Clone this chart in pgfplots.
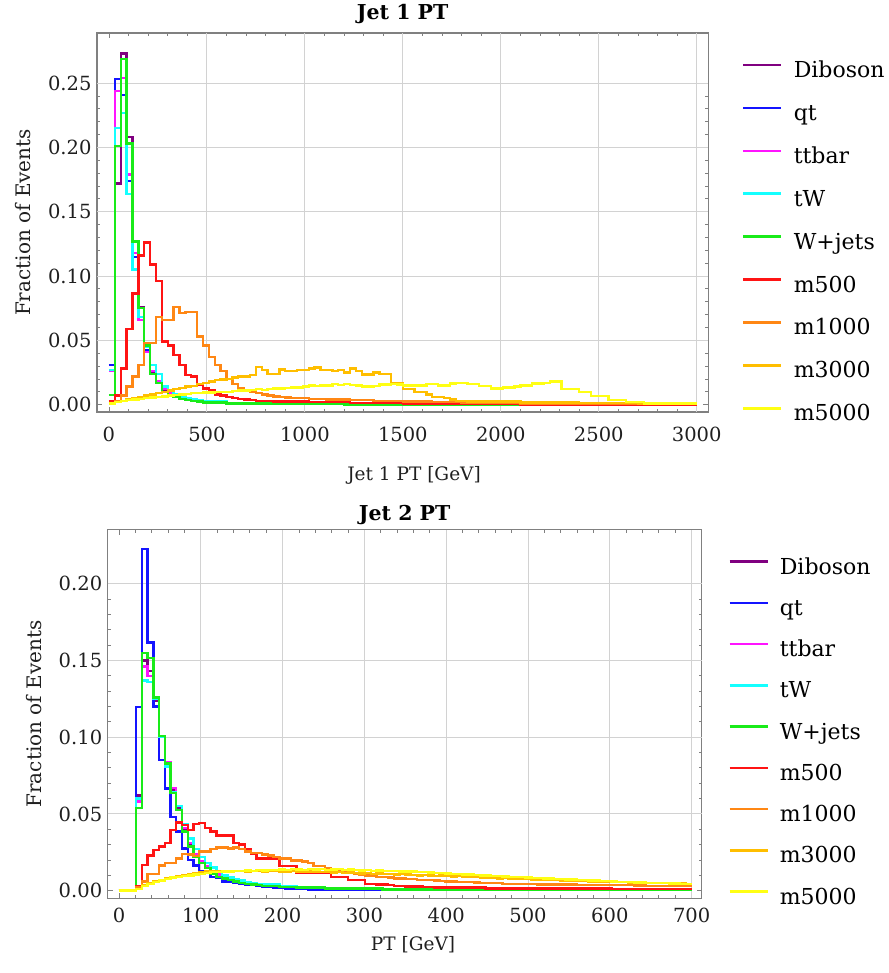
\documentclass[border=0pt]{standalone}
\usepackage{fontspec}
\setmainfont{DejaVu Serif}
\usepackage{pgfplots}
\usepackage{pgfplotstable}
\pgfplotsset{compat=1.18}

\definecolor{cDib}{RGB}{128,0,128}
\definecolor{cQt}{RGB}{20,20,255}
\definecolor{cTt}{RGB}{255,20,255}
\definecolor{cTw}{RGB}{20,255,255}
\definecolor{cWj}{RGB}{25,235,25}
\definecolor{cMa}{RGB}{255,20,20}
\definecolor{cMb}{RGB}{255,135,20}
\definecolor{cMc}{RGB}{255,190,0}
\definecolor{cMd}{RGB}{255,255,20}
\definecolor{cFrame}{RGB}{128,128,128}
\definecolor{cGrid}{RGB}{210,210,210}

\pgfplotstableread{
x dib qt tt tw wj ma mb mc md
0 0.003 0.031 0.026 0.027 0.0075 0.003 0.001 0.001 0.001
30 0.172 0.253 0.244 0.215 0.201 0.007 0.003 0.002 0.002
60 0.273 0.241 0.254 0.227 0.269 0.028 0.007 0.003 0.003
90 0.208 0.174 0.179 0.164 0.203 0.059 0.014 0.004 0.0035
120 0.127 0.115 0.118 0.105 0.127 0.0865 0.0218 0.005 0.004
150 0.076 0.068 0.066 0.068 0.075 0.116 0.031 0.006 0.0045
180 0.045 0.042 0.041 0.045 0.046 0.126 0.048 0.007 0.005
210 0.025 0.026 0.026 0.031 0.024 0.109 0.048 0.008 0.0055
240 0.017 0.017 0.018 0.024 0.017 0.096 0.068 0.009 0.006
270 0.011 0.012 0.012 0.014 0.010 0.049 0.066 0.010 0.0065
300 0.008 0.008 0.009 0.011 0.0075 0.046 0.066 0.011 0.007
330 0.006 0.006 0.007 0.008 0.006 0.0386 0.076 0.012 0.0075
360 0.005 0.005 0.005 0.006 0.0045 0.031 0.0715 0.013 0.008
390 0.004 0.004 0.004 0.005 0.0035 0.023 0.072 0.014 0.0085
420 0.0035 0.003 0.0035 0.004 0.003 0.0218 0.072 0.0145 0.009
450 0.003 0.0025 0.003 0.0035 0.0025 0.0153 0.053 0.016 0.009
480 0.0025 0.002 0.002 0.0025 0.0018 0.0127 0.046 0.017 0.0095
510 0.002 0.002 0.002 0.0025 0.0018 0.0114 0.037 0.018 0.0095
540 0.002 0.002 0.002 0.0025 0.0018 0.008 0.031 0.019 0.010
570 0.0015 0.002 0.002 0.0025 0.0018 0.007 0.026 0.0195 0.010
600 0.001 0.001 0.0012 0.0015 0.001 0.006 0.020 0.020 0.010
630 0.001 0.001 0.0012 0.0015 0.001 0.005 0.016 0.021 0.0105
660 0.001 0.001 0.0012 0.0015 0.001 0.0045 0.013 0.022 0.011
690 0.001 0.001 0.0012 0.0015 0.001 0.004 0.011 0.022 0.011
720 0.001 0.001 0.0012 0.0015 0.001 0.0035 0.010 0.023 0.0115
750 0.001 0.001 0.0012 0.0015 0.001 0.003 0.009 0.0295 0.012
780 0.001 0.001 0.0012 0.0015 0.001 0.003 0.008 0.027 0.0115
810 0.001 0.001 0.0012 0.0015 0.001 0.003 0.007 0.024 0.012
840 0.001 0.001 0.0012 0.0015 0.001 0.0025 0.0065 0.024 0.0125
870 0.001 0.001 0.0012 0.0015 0.001 0.0025 0.006 0.0275 0.0125
900 0.0005 0.0005 0.0006 0.0007 0.0004 0.0025 0.0055 0.026 0.013
930 0.0005 0.0005 0.0006 0.0007 0.0004 0.0025 0.005 0.026 0.0135
960 0.0005 0.0005 0.0006 0.0007 0.0004 0.0025 0.005 0.027 0.0135
990 0.0005 0.0005 0.0006 0.0007 0.0004 0.0025 0.005 0.027 0.014
1020 0.0005 0.0005 0.0006 0.0007 0.0004 0.002 0.0045 0.028 0.015
1050 0.0005 0.0005 0.0006 0.0007 0.0004 0.002 0.0045 0.029 0.0145
1080 0.0005 0.0005 0.0006 0.0007 0.0004 0.002 0.0045 0.027 0.015
1110 0.0005 0.0005 0.0006 0.0007 0.0004 0.002 0.004 0.027 0.015
1140 0.0005 0.0005 0.0006 0.0007 0.0004 0.002 0.004 0.026 0.016
1170 0.0005 0.0005 0.0006 0.0007 0.0004 0.002 0.004 0.027 0.0155
1200 0 0 0 0 0 0.002 0.004 0.025 0.016
1230 0 0 0 0 0 0.0012 0.0035 0.028 0.0155
1260 0 0 0 0 0 0.0012 0.0035 0.026 0.015
1290 0 0 0 0 0 0.0012 0.0035 0.0236 0.014
1320 0 0 0 0 0 0.0012 0.0035 0.0236 0.014
1350 0 0 0 0 0 0.0012 0.003 0.025 0.0145
1380 0 0 0 0 0 0.0012 0.003 0.024 0.0158
1410 0 0 0 0 0 0.0012 0.003 0.024 0.0158
1440 0 0 0 0 0 0.0012 0.003 0.0166 0.016
1470 0 0 0 0 0 0.0012 0.003 0.0166 0.0158
1500 0 0 0 0 0 0.0007 0.0025 0.012 0.015
1530 0 0 0 0 0 0.0007 0.0025 0.012 0.015
1560 0 0 0 0 0 0.0007 0.0025 0.010 0.0148
1590 0 0 0 0 0 0.0007 0.0025 0.010 0.015
1620 0 0 0 0 0 0.0007 0.0025 0.008 0.016
1650 0 0 0 0 0 0.0007 0.002 0.006 0.016
1680 0 0 0 0 0 0.0007 0.002 0.006 0.015
1710 0 0 0 0 0 0.0007 0.002 0.005 0.015
1740 0 0 0 0 0 0.0007 0.002 0.004 0.0166
1770 0 0 0 0 0 0.0007 0.002 0.003 0.017
1800 0 0 0 0 0 0.0004 0.0015 0.003 0.017
1830 0 0 0 0 0 0.0004 0.0015 0.0025 0.016
1860 0 0 0 0 0 0.0004 0.0015 0.0025 0.016
1890 0 0 0 0 0 0.0004 0.0015 0.0025 0.0145
1920 0 0 0 0 0 0.0004 0.0015 0.0025 0.0145
1950 0 0 0 0 0 0.0004 0.0015 0.0025 0.0127
1980 0 0 0 0 0 0.0004 0.0015 0.0025 0.0127
2010 0 0 0 0 0 0.0004 0.0015 0.0025 0.0135
2040 0 0 0 0 0 0.0004 0.0015 0.0025 0.0135
2070 0 0 0 0 0 0.0004 0.0015 0.0025 0.014
2100 0 0 0 0 0 0.0002 0.001 0.0018 0.015
2130 0 0 0 0 0 0.0002 0.001 0.0018 0.015
2160 0 0 0 0 0 0.0002 0.001 0.0018 0.0166
2190 0 0 0 0 0 0.0002 0.001 0.0018 0.0166
2220 0 0 0 0 0 0.0002 0.001 0.0018 0.017
2250 0 0 0 0 0 0.0002 0.001 0.0018 0.018
2280 0 0 0 0 0 0.0002 0.001 0.0018 0.018
2310 0 0 0 0 0 0.0002 0.001 0.0018 0.012
2340 0 0 0 0 0 0.0002 0.001 0.0018 0.012
2370 0 0 0 0 0 0.0002 0.001 0.0018 0.012
2400 0 0 0 0 0 0.0002 0.0007 0.0012 0.010
2430 0 0 0 0 0 0.0002 0.0007 0.0012 0.010
2460 0 0 0 0 0 0.0002 0.0007 0.0012 0.0067
2490 0 0 0 0 0 0.0002 0.0007 0.0012 0.0067
2520 0 0 0 0 0 0.0002 0.0007 0.0012 0.0067
2550 0 0 0 0 0 0.0002 0.0007 0.0012 0.0036
2580 0 0 0 0 0 0.0002 0.0007 0.0012 0.0036
2610 0 0 0 0 0 0.0002 0.0007 0.0012 0.0036
2640 0 0 0 0 0 0.0002 0.0007 0.0012 0.0023
2670 0 0 0 0 0 0.0002 0.0007 0.0012 0.0023
2700 0 0 0 0 0 0.0002 0.0005 0.0008 0.0023
2730 0 0 0 0 0 0.0002 0.0005 0.0008 0.001
2760 0 0 0 0 0 0.0002 0.0005 0.0008 0.001
2790 0 0 0 0 0 0.0002 0.0005 0.0008 0.001
2820 0 0 0 0 0 0.0002 0.0005 0.0008 0.001
2850 0 0 0 0 0 0.0002 0.0005 0.0008 0.001
2880 0 0 0 0 0 0.0002 0.0005 0.0008 0.001
2910 0 0 0 0 0 0.0002 0.0005 0.0008 0.001
2940 0 0 0 0 0 0.0002 0.0005 0.0008 0.001
2970 0 0 0 0 0 0.0002 0.0005 0.0008 0.001
3000 0 0 0 0 0 0.0002 0.0005 0.0008 0.001
}\topdata

\pgfplotstableread{
x dib qt tt tw wj ma mb mc md
0 0 0 0 0 0 0 0 0 0
7 0 0 0 0 0 0 0 0 0
14 0 0 0 0 0 0 0 0 0
21 0.062 0.1196 0.058 0.060 0.054 0.003 0.002 0.001 0.001
28 0.150 0.2228 0.146 0.137 0.155 0.0167 0.006 0.0035 0.003
35 0.143 0.1617 0.140 0.136 0.1515 0.023 0.011 0.005 0.0045
42 0.124 0.120 0.126 0.125 0.126 0.0265 0.011 0.006 0.0055
49 0.100 0.085 0.101 0.100 0.101 0.0287 0.0165 0.007 0.0065
56 0.082 0.0667 0.084 0.081 0.083 0.031 0.018 0.008 0.0075
63 0.066 0.048 0.067 0.064 0.0635 0.0396 0.018 0.009 0.0085
70 0.054 0.0385 0.055 0.055 0.0526 0.0443 0.021 0.0095 0.009
77 0.040 0.0276 0.041 0.043 0.0385 0.0428 0.024 0.010 0.0095
84 0.030 0.020 0.031 0.034 0.0287 0.0396 0.0235 0.011 0.010
91 0.023 0.0163 0.024 0.027 0.022 0.0435 0.0225 0.0115 0.0105
98 0.019 0.0124 0.019 0.022 0.018 0.044 0.0255 0.012 0.011
105 0.015 0.0115 0.016 0.018 0.0146 0.041 0.0255 0.0125 0.0115
112 0.012 0.009 0.013 0.015 0.011 0.0385 0.027 0.0125 0.012
119 0.0095 0.0085 0.0105 0.012 0.009 0.036 0.028 0.013 0.012
126 0.008 0.006 0.0085 0.010 0.008 0.036 0.028 0.013 0.0125
133 0.0065 0.0055 0.007 0.0085 0.007 0.036 0.0275 0.0128 0.0125
140 0.0055 0.005 0.006 0.0075 0.006 0.031 0.028 0.013 0.013
147 0.0045 0.0043 0.005 0.0065 0.005 0.030 0.027 0.0128 0.013
154 0.004 0.004 0.0045 0.0055 0.0045 0.027 0.0255 0.0125 0.0132
161 0.0035 0.0035 0.004 0.005 0.004 0.024 0.0245 0.013 0.013
168 0.003 0.003 0.0035 0.0045 0.0035 0.021 0.0245 0.0128 0.0135
175 0.0025 0.0026 0.003 0.004 0.003 0.021 0.0235 0.0125 0.0132
182 0.0025 0.0024 0.003 0.004 0.003 0.021 0.023 0.013 0.0135
189 0.0025 0.002 0.003 0.004 0.003 0.021 0.022 0.0128 0.0135
196 0.002 0.0018 0.0025 0.003 0.0025 0.016 0.021 0.0125 0.0138
203 0.002 0.0015 0.0025 0.003 0.0025 0.016 0.021 0.0125 0.0135
210 0.002 0.0013 0.0025 0.003 0.0025 0.016 0.0196 0.0128 0.014
217 0.0015 0.0012 0.002 0.0025 0.002 0.0115 0.0196 0.0125 0.0138
224 0.0015 0.001 0.002 0.0025 0.002 0.0115 0.019 0.0122 0.0135
231 0.0015 0.0008 0.002 0.0025 0.002 0.0115 0.018 0.0125 0.014
238 0.0015 0.0008 0.002 0.0025 0.002 0.0115 0.016 0.012 0.0138
245 0.0015 0.0008 0.002 0.0025 0.002 0.0115 0.016 0.0122 0.014
252 0.001 0.0008 0.0013 0.0018 0.0013 0.0115 0.0145 0.012 0.0135
259 0.001 0.0008 0.0013 0.0018 0.0013 0.009 0.0135 0.0118 0.0138
266 0.001 0.0008 0.0013 0.0018 0.0013 0.009 0.0125 0.012 0.014
273 0.001 0.0008 0.0013 0.0018 0.0013 0.009 0.012 0.0115 0.0135
280 0.001 0.0008 0.0013 0.0018 0.0013 0.007 0.0115 0.0118 0.0138
287 0.001 0.0005 0.0013 0.0018 0.0013 0.007 0.011 0.0115 0.0135
294 0.001 0.0005 0.0013 0.0018 0.0013 0.007 0.0105 0.0112 0.0132
301 0.001 0.0005 0.0013 0.0018 0.0013 0.0045 0.010 0.0115 0.0135
308 0.001 0.0005 0.0013 0.0018 0.0013 0.0045 0.0095 0.011 0.013
315 0.001 0.0005 0.0013 0.0018 0.0013 0.004 0.009 0.0112 0.0132
322 0.0006 0.0005 0.0008 0.001 0.0008 0.004 0.0088 0.0108 0.013
329 0.0006 0.0005 0.0008 0.001 0.0008 0.0035 0.0085 0.011 0.0128
336 0.0006 0.0005 0.0008 0.001 0.0008 0.003 0.008 0.0105 0.013
343 0.0006 0.0005 0.0008 0.001 0.0008 0.003 0.008 0.0108 0.0126
350 0.0006 0.0005 0.0008 0.001 0.0008 0.0028 0.0075 0.0105 0.0125
357 0.0006 0.0005 0.0008 0.001 0.0008 0.0028 0.0075 0.0102 0.0124
364 0.0006 0.0005 0.0008 0.001 0.0008 0.0026 0.007 0.010 0.0122
371 0.0006 0.0005 0.0008 0.001 0.0008 0.0025 0.007 0.0102 0.012
378 0.0006 0.0005 0.0008 0.001 0.0008 0.0025 0.0068 0.0098 0.0118
385 0.0006 0.0005 0.0008 0.001 0.0008 0.002 0.0065 0.0096 0.0116
392 0.0006 0.0005 0.0008 0.001 0.0008 0.002 0.0062 0.0098 0.0114
399 0.0006 0.0005 0.0008 0.001 0.0008 0.002 0.006 0.0095 0.0112
406 0.0006 0.0003 0.0008 0.001 0.0008 0.002 0.006 0.0092 0.011
413 0.0006 0.0003 0.0008 0.001 0.0008 0.002 0.0058 0.0094 0.0108
420 0.0006 0.0003 0.0008 0.001 0.0008 0.002 0.0055 0.009 0.0106
427 0.0003 0.0003 0.0004 0.0005 0.0004 0.002 0.0055 0.0088 0.0104
434 0.0003 0.0003 0.0004 0.0005 0.0004 0.002 0.0052 0.009 0.0102
441 0.0003 0.0003 0.0004 0.0005 0.0004 0.002 0.005 0.0085 0.010
448 0.0003 0.0003 0.0004 0.0005 0.0004 0.0013 0.005 0.0085 0.0098
455 0.0003 0.0003 0.0004 0.0005 0.0004 0.0013 0.0048 0.0082 0.0096
462 0.0003 0.0003 0.0004 0.0005 0.0004 0.0013 0.0048 0.008 0.0094
469 0.0003 0.0003 0.0004 0.0005 0.0004 0.0013 0.0045 0.0082 0.0092
476 0.0003 0.0003 0.0004 0.0005 0.0004 0.0013 0.0045 0.0078 0.009
483 0.0003 0.0003 0.0004 0.0005 0.0004 0.0013 0.0045 0.0078 0.0088
490 0.0003 0.0003 0.0004 0.0005 0.0004 0.0013 0.0042 0.0075 0.0087
497 0.0003 0.0003 0.0004 0.0005 0.0004 0.0013 0.0042 0.0075 0.0085
504 0.0003 0.0003 0.0004 0.0005 0.0004 0.0013 0.0042 0.0072 0.0083
511 0.0003 0.0003 0.0004 0.0005 0.0004 0.0013 0.0041 0.0072 0.0082
518 0.0003 0.0003 0.0004 0.0005 0.0004 0.0013 0.0041 0.007 0.008
525 0.0003 0.0003 0.0004 0.0005 0.0004 0.0013 0.0041 0.0068 0.0078
532 0.0003 0.0003 0.0004 0.0005 0.0004 0.0013 0.004 0.0068 0.0076
539 0.0003 0.0003 0.0004 0.0005 0.0004 0.0013 0.004 0.0066 0.0075
546 0.0003 0.0003 0.0004 0.0005 0.0004 0.0013 0.004 0.0065 0.0073
553 0.0003 0.0003 0.0004 0.0005 0.0004 0.0013 0.004 0.0065 0.0072
560 0.0003 0.0003 0.0004 0.0005 0.0004 0.0013 0.0038 0.0062 0.007
567 0.0003 0.0003 0.0004 0.0005 0.0004 0.0013 0.0038 0.0062 0.0068
574 0.0003 0.0003 0.0004 0.0005 0.0004 0.0013 0.0037 0.006 0.0067
581 0.0003 0.0003 0.0004 0.0005 0.0004 0.0013 0.0037 0.006 0.0065
588 0.0003 0.0003 0.0004 0.0005 0.0004 0.0013 0.0036 0.0058 0.0063
595 0.0003 0.0003 0.0004 0.0005 0.0004 0.0013 0.0036 0.0058 0.0062
602 0.0003 0.0003 0.0004 0.0005 0.0004 0.001 0.0036 0.0056 0.006
609 0.0003 0.0003 0.0004 0.0005 0.0004 0.001 0.0035 0.0055 0.0058
616 0.0003 0.0003 0.0004 0.0005 0.0004 0.001 0.0035 0.0055 0.0057
623 0.0003 0.0003 0.0004 0.0005 0.0004 0.001 0.0035 0.0053 0.0055
630 0.0003 0.0003 0.0004 0.0005 0.0004 0.001 0.0033 0.0053 0.0054
637 0.0003 0.0003 0.0004 0.0005 0.0004 0.001 0.0033 0.0052 0.0052
644 0.0003 0.0003 0.0004 0.0005 0.0004 0.001 0.0032 0.005 0.0051
651 0.0003 0.0003 0.0004 0.0005 0.0004 0.001 0.0032 0.005 0.005
658 0.0003 0.0003 0.0004 0.0005 0.0004 0.001 0.0031 0.005 0.0049
665 0.0003 0.0003 0.0004 0.0005 0.0004 0.001 0.0031 0.0048 0.0048
672 0.0003 0.0003 0.0004 0.0005 0.0004 0.001 0.003 0.0048 0.0047
679 0.0003 0.0003 0.0004 0.0005 0.0004 0.001 0.003 0.0047 0.0046
686 0.0003 0.0003 0.0004 0.0005 0.0004 0.001 0.003 0.0046 0.0045
693 0.0003 0.0003 0.0004 0.0005 0.0004 0.001 0.003 0.0045 0.0045
700 0.0003 0.0003 0.0004 0.0005 0.0004 0.001 0.003 0.0045 0.0045
}\botdata

\newcommand{\tickfont}{\fontsize{19.5}{20}\selectfont}
\newcommand{\xlabfont}{\fontsize{18.5}{19}\selectfont}
\newcommand{\ylabfont}{\fontsize{20}{20}\selectfont}
\newcommand{\titfont}{\fontsize{20.5}{21}\selectfont\bfseries}
\newcommand{\legfont}{\fontsize{22}{22}\selectfont}

\pgfplotsset{
  histo/.style={
    scale only axis,
    axis line style={cFrame, line width=1.1pt},
    tick style={cFrame, line width=0.9pt},
    tick align=inside,
    major tick length=5pt,
    minor tick length=3pt,
    minor x tick num=4,
    minor y tick num=4,
    xtick pos=both, ytick pos=both,
    /pgf/number format/assume math mode=true,
    /pgf/number format/1000 sep={},
    tick label style={font=\tickfont, text=black!88},
    yticklabel style={xshift=-2pt, /pgf/number format/.cd, fixed, fixed zerofill, precision=2, /pgf/number format/assume math mode=true},
    extra tick style={grid=major, major grid style={cGrid, line width=0.9pt}, major tick length=0pt},
    legend cell align=left,
    legend image code/.code={\draw[##1, line width=2.6pt] (0pt,7.5pt) -- (38pt,7.5pt);},
    every axis plot/.append style={const plot, no marks, line width=2.4pt},
  }
}

\begin{document}
\begin{tikzpicture}[x=1pt,y=1pt]
\useasboundingbox (0,0) rectangle (888,-973);

\begin{axis}[histo,
  at={(97pt,-33pt)}, anchor=north west,
  width=611.3pt, height=379pt,
  xmin=-61, xmax=3059, ymin=-0.0057, ymax=0.289,
  xtick={0,500,1000,1500,2000,2500,3000},
  ytick={0,0.05,0.1,0.15,0.2,0.25},
  extra x ticks={500,1000,1500,2000,2500,3000}, extra x tick labels={},
  extra y ticks={0.05,0.1,0.15,0.2,0.25}, extra y tick labels={},
  xticklabel style={yshift=-11pt},
  title={Jet 1 PT},
  xlabel={Jet 1 PT [GeV]},
  ylabel={Fraction of Events},
  every axis title/.style={at={(axis description cs:0.5,1.050)}, anchor=center, font=\titfont},
  every axis x label/.style={at={(axis description cs:0.5186,-0.166)}, anchor=center, font=\xlabfont, text=black!88},
  every axis y label/.style={at={(axis description cs:-0.121,0.5)}, anchor=center, rotate=90, font=\ylabfont, text=black!88},
  legend style={at={(axis description cs:1.0551,0.924)}, anchor=north west, draw=none, fill=none,
    font=\legfont, inner sep=0pt, row sep=21.9pt,
    nodes={inner sep=0pt, text height=15.5pt, text depth=5.5pt},
    /tikz/every odd column/.append style={column sep=11pt}},
]
\addplot[cDib] table[x=x,y=dib]{\topdata};
\addlegendentry{Diboson}
\addplot[cQt] table[x=x,y=qt]{\topdata};
\addlegendentry{qt}
\addplot[cTt] table[x=x,y=tt]{\topdata};
\addlegendentry{ttbar}
\addplot[cTw] table[x=x,y=tw]{\topdata};
\addlegendentry{tW}
\addplot[cWj] table[x=x,y=wj]{\topdata};
\addlegendentry{W+jets}
\addplot[cMa] table[x=x,y=ma]{\topdata};
\addlegendentry{m500}
\addplot[cMb] table[x=x,y=mb]{\topdata};
\addlegendentry{m1000}
\addplot[cMc] table[x=x,y=mc]{\topdata};
\addlegendentry{m3000}
\addplot[cMd] table[x=x,y=md]{\topdata};
\addlegendentry{m5000}
\end{axis}

\begin{axis}[histo,
  at={(107.7pt,-529.7pt)}, anchor=north west,
  width=594pt, height=368.6pt,
  xmin=-13.8, xmax=712.3, ymin=-0.005, ymax=0.2353,
  xtick={0,100,200,300,400,500,600,700},
  ytick={0,0.05,0.1,0.15,0.2},
  extra x ticks={100,200,300,400,500,600,700}, extra x tick labels={},
  extra y ticks={0.05,0.1,0.15,0.2}, extra y tick labels={},
  xticklabel style={yshift=-6pt},
  title={Jet 2 PT},
  xlabel={PT [GeV]},
  ylabel={Fraction of Events},
  every axis title/.style={at={(axis description cs:0.5,1.040)}, anchor=center, font=\titfont},
  every axis x label/.style={at={(axis description cs:0.514,-0.127)}, anchor=center, font=\xlabfont, text=black!88},
  every axis y label/.style={at={(axis description cs:-0.124,0.5)}, anchor=center, rotate=90, font=\ylabfont, text=black!88},
  legend style={at={(axis description cs:1.0443,0.922)}, anchor=north west, draw=none, fill=none,
    font=\legfont, inner sep=0pt, row sep=20.25pt,
    nodes={inner sep=0pt, text height=15.5pt, text depth=5.5pt},
    /tikz/every odd column/.append style={column sep=11pt}},
]
\addplot[cDib] table[x=x,y=dib]{\botdata};
\addlegendentry{Diboson}
\addplot[cQt] table[x=x,y=qt]{\botdata};
\addlegendentry{qt}
\addplot[cTt] table[x=x,y=tt]{\botdata};
\addlegendentry{ttbar}
\addplot[cTw] table[x=x,y=tw]{\botdata};
\addlegendentry{tW}
\addplot[cWj] table[x=x,y=wj]{\botdata};
\addlegendentry{W+jets}
\addplot[cMa] table[x=x,y=ma]{\botdata};
\addlegendentry{m500}
\addplot[cMb] table[x=x,y=mb]{\botdata};
\addlegendentry{m1000}
\addplot[cMc] table[x=x,y=mc]{\botdata};
\addlegendentry{m3000}
\addplot[cMd] table[x=x,y=md]{\botdata};
\addlegendentry{m5000}
\end{axis}
\end{tikzpicture}
\end{document}
